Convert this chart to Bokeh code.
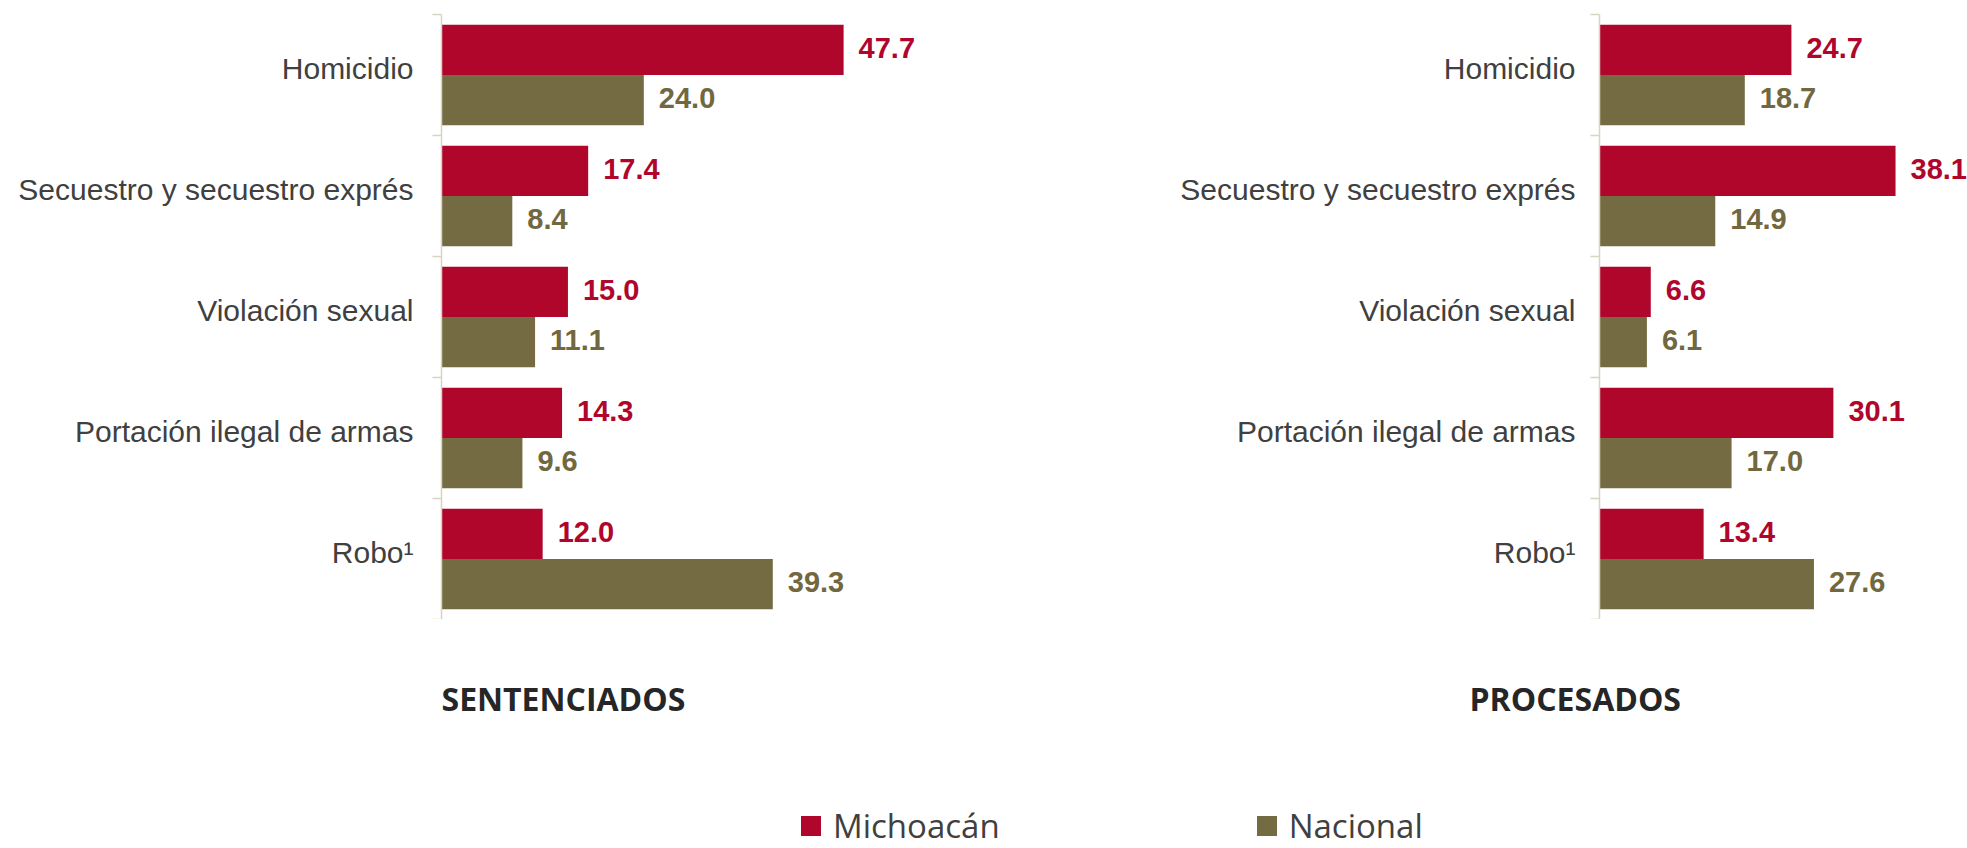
from bokeh.plotting import figure
from bokeh.models import (Range1d, FixedTicker, CustomJSTickFormatter, ColumnDataSource,
                          Legend, LegendItem)
from bokeh.layouts import column, row
from bokeh.embed import file_html
from bokeh.resources import INLINE
from bokeh.core.properties import value

# ---------------- data ----------------
categories = ["Homicidio", "Secuestro y secuestro exprés", "Violación sexual",
              "Portación ilegal de armas", "Robo¹"]
sentenciados_michoacan = [47.7, 17.4, 15.0, 14.3, 12.0]
sentenciados_nacional = [24.0, 8.4, 11.1, 9.6, 39.3]
procesados_michoacan = [24.7, 38.1, 6.6, 30.1, 13.4]
procesados_nacional = [18.7, 14.9, 6.1, 17.0, 27.6]
series_names = ["Michoacán", "Nacional"]
panel_titles = ["SENTENCIADOS", "PROCESADOS"]

# ---------------- styles ----------------
MICH = "#B0062C"
NAC = "#756B42"
NAC_TXT = "#726840"
AXIS = "#D9D4C0"
LABEL = "#404040"
BAR_H = 0.415
LABEL_LIFT = 0.05   # category labels sit slightly above the group centre


def panel(mich, nac, width, height, border_left, border_top, x_end, standoff):
    n = len(categories)
    centers = [n - i - 0.5 for i in range(n)]
    p = figure(width=width, height=height, x_range=Range1d(0, x_end), y_range=Range1d(0, n),
               output_backend="svg", toolbar_location=None, x_axis_location=None,
               min_border_left=border_left, min_border_right=0, min_border_top=border_top,
               min_border_bottom=0)
    p.outline_line_color = None
    p.grid.visible = False
    p.background_fill_color = None
    p.border_fill_color = None
    src = ColumnDataSource(dict(
        mich=mich, nac=nac,
        y_m=[c + BAR_H / 2 for c in centers],
        y_n=[c - BAR_H / 2 for c in centers],
        lab_m=[f"{v:.1f}" for v in mich],
        lab_n=[f"{v:.1f}" for v in nac],
    ))
    p.hbar(y="y_m", left=0, right="mich", height=BAR_H, fill_color=MICH, line_color=None, source=src)
    p.hbar(y="y_n", left=0, right="nac", height=BAR_H, fill_color=NAC, line_color=None, source=src)
    common = dict(x_offset=15, y_offset=-2, text_baseline="middle", text_align="left",
                  text_font=value("Liberation Sans"), text_font_style="bold",
                  text_font_size="29px", source=src)
    p.text(x="mich", y="y_m", text="lab_m", text_color=MICH, **common)
    p.text(x="nac", y="y_n", text="lab_n", text_color=NAC_TXT, **common)

    ax = p.yaxis[0]
    ax.ticker = FixedTicker(ticks=[c + LABEL_LIFT for c in centers],
                            minor_ticks=list(range(n + 1)))
    ax.formatter = CustomJSTickFormatter(args=dict(cats=categories, n=n),
                                         code="return cats[Math.floor(n - tick)];")
    ax.axis_line_color = AXIS
    ax.axis_line_width = 1.5
    ax.major_tick_line_color = None
    ax.major_tick_in = 0
    ax.major_tick_out = 0
    ax.minor_tick_line_color = AXIS
    ax.minor_tick_line_width = 1.5
    ax.minor_tick_in = 0
    ax.minor_tick_out = 9
    ax.major_label_standoff = standoff
    ax.major_label_text_font = "Liberation Sans"
    ax.major_label_text_font_size = "30px"
    ax.major_label_text_color = LABEL
    return p


left = panel(sentenciados_michoacan, sentenciados_nacional, width=1000, height=619,
             border_left=441, border_top=9, x_end=559 / 8.43, standoff=19)
right = panel(procesados_michoacan, procesados_nacional, width=967, height=619,
              border_left=599, border_top=14, x_end=368 / 7.77, standoff=15)

# bottom strip: panel titles + legend
bottom = figure(width=1967, height=229, x_range=Range1d(0, 1967), y_range=Range1d(229, 0),
                output_backend="svg", toolbar_location=None, x_axis_location=None,
                y_axis_location=None, min_border=0)
bottom.outline_line_color = None
bottom.grid.visible = False
bottom.text(x=[441, 1469], y=[79, 79], text=panel_titles, text_align="left",
            text_baseline="alphabetic", text_font=value("Open Sans"), text_font_style="bold",
            text_font_size="32px", text_color="#262626")
# zero-area proxies that only carry the legend swatch colours
r1 = bottom.hbar(y=[100], left=[0], right=[0], height=0, fill_color=MICH, line_color=None)
r2 = bottom.hbar(y=[100], left=[0], right=[0], height=0, fill_color=NAC, line_color=None)
legend = Legend(items=[LegendItem(label=series_names[0], renderers=[r1]),
                       LegendItem(label=series_names[1], renderers=[r2])],
                orientation="horizontal", location=(798, 0), glyph_width=25, glyph_height=25,
                label_standoff=10, spacing=254, padding=0, margin=0,
                border_line_color=None, background_fill_alpha=0,
                label_text_font="Open Sans", label_text_font_size="33px",
                label_text_color=LABEL, label_height=20)
bottom.add_layout(legend)

layout = column(row(left, right), bottom)
open("out.html", "w").write(file_html(layout, INLINE))
